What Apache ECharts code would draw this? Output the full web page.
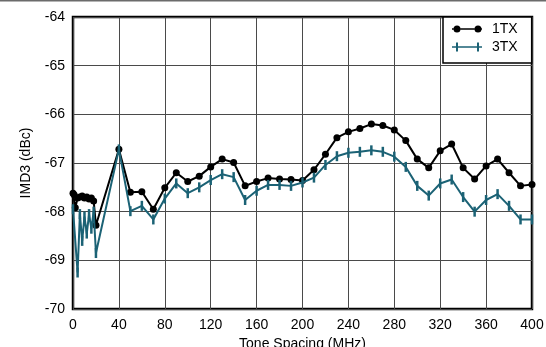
<!DOCTYPE html>
<html>
<head>
<meta charset="utf-8">
<script src="https://cdn.jsdelivr.net/npm/echarts@6/dist/echarts.min.js"></script>
<style>
html,body{margin:0;padding:0;background:#fff;}
#chart{width:546px;height:347px;}
</style>
</head>
<body>
<div id="chart"></div>
<script>
// ---- data ----
const tx1Freq = [0,1,2,4,6,8,10,12,14,16,18,20,40,50,60,70,80,90,100,110,120,130,140,150,160,170,180,190,200,210,220,230,240,250,260,270,280,290,300,310,320,330,340,350,360,370,380,390,400];
const tx1Imd3 = [-67.62,-67.65,-67.92,-67.72,-67.70,-67.68,-67.72,-67.70,-67.74,-67.72,-67.78,-68.28,-66.72,-67.60,-67.59,-67.95,-67.51,-67.20,-67.38,-67.27,-67.08,-66.92,-66.99,-67.47,-67.38,-67.31,-67.33,-67.34,-67.36,-67.14,-66.82,-66.48,-66.36,-66.29,-66.20,-66.23,-66.32,-66.54,-66.92,-67.10,-66.75,-66.61,-67.10,-67.33,-67.06,-66.92,-67.20,-67.47,-67.44];
const tx3Freq = [0,4,6,8,10,12,14,16,18,20,40,50,60,70,80,90,100,110,120,130,140,150,160,170,180,190,200,210,220,230,240,250,260,270,280,290,300,310,320,330,340,350,360,370,380,390,400];
const tx3Imd3 = [-67.95,-69.25,-68.05,-68.6,-68.1,-68.45,-68.05,-68.35,-68.0,-68.85,-66.72,-67.99,-67.88,-68.16,-67.73,-67.42,-67.62,-67.50,-67.35,-67.23,-67.29,-67.76,-67.57,-67.45,-67.45,-67.47,-67.40,-67.30,-67.04,-66.86,-66.79,-66.77,-66.74,-66.77,-66.87,-67.08,-67.47,-67.67,-67.42,-67.34,-67.70,-68.00,-67.76,-67.64,-67.88,-68.16,-68.16];
const seriesNames = ['1TX','3TX'];
const xTicks = {min:0, max:400, interval:40};
const yTicks = {min:-70, max:-64, interval:1};
const xTitle = 'Tone Spacing (MHz)';
const yTitle = 'IMD3 (dBc)';

const pair = (xs, ys) => xs.map((x,i)=>[x, ys[i]]);
const FONT = '"Liberation Sans", Arial, sans-serif';
const TEAL = '#1b6275';

const chart = echarts.init(document.getElementById('chart'), null, {renderer:'canvas'});
chart.setOption({
  animation:false,
  backgroundColor:'#fff',
  grid:{left:73, right:14, top:17, bottom:38, show:true, borderColor:'#000', borderWidth:2.5,
        backgroundColor:'transparent', containLabel:false, outerBoundsMode:'none'},
  xAxis:{
    type:'value', min:xTicks.min, max:xTicks.max, interval:xTicks.interval,
    name:xTitle, nameLocation:'middle', nameGap:27,
    nameTextStyle:{fontFamily:FONT, fontSize:14, color:'#000'},
    axisLine:{show:false}, axisTick:{show:false},
    axisLabel:{fontFamily:FONT, fontSize:14, color:'#000', margin:9},
    splitLine:{show:true, lineStyle:{color:'#4a4a4a', width:1}}
  },
  yAxis:{
    type:'value', min:yTicks.min, max:yTicks.max, interval:yTicks.interval,
    name:yTitle, nameLocation:'middle', nameGap:40,
    nameTextStyle:{fontFamily:FONT, fontSize:14, color:'#000'},
    axisLine:{show:false}, axisTick:{show:false},
    axisLabel:{fontFamily:FONT, fontSize:14, color:'#000', margin:8},
    splitLine:{show:true, lineStyle:{color:'#4a4a4a', width:1}}
  },
  legend:{
    orient:'vertical', left:443, top:17,
    backgroundColor:'#fff', borderColor:'#000', borderWidth:1.5,
    padding:[5,14,9,9], itemGap:4, itemWidth:30, itemHeight:9,
    textStyle:{fontFamily:FONT, fontSize:14, color:'#000', padding:[0,0,0,5]},
    itemStyle:{borderWidth:0},
    data:[
      {name:seriesNames[0], icon:'path://M0,4.2H1.5V5.8H0Z M8.5,4.2H22.5V5.8H8.5Z M1.5,5a3.5,3.5 0 1,0 7,0a3.5,3.5 0 1,0 -7,0Z M22.5,5a3.5,3.5 0 1,0 7,0a3.5,3.5 0 1,0 -7,0Z M29.5,4.2H30V5.8H29.5Z'},
      {name:seriesNames[1], icon:'path://M0,4.2H30V5.8H0Z M4,0.5H6V9.5H4Z M25,0.5H27V9.5H25Z'}
    ],
    z:10
  },
  graphic:[
    {type:'rect', left:0, top:0, shape:{width:546, height:1.5}, style:{fill:'#6b6b6b'}, silent:true}
  ],
  series:[
    {
      name:seriesNames[0], type:'line', data:pair(tx1Freq, tx1Imd3),
      symbol:'circle', symbolSize:7, showAllSymbol:true,
      lineStyle:{color:'#000', width:2}, itemStyle:{color:'#000'}, z:2
    },
    {
      name:seriesNames[1], type:'line', data:pair(tx3Freq, tx3Imd3),
      symbol:'rect', symbolSize:[2.5,10], showAllSymbol:true,
      lineStyle:{color:TEAL, width:2}, itemStyle:{color:TEAL}, z:3
    }
  ]
});
</script>
</body>
</html>
